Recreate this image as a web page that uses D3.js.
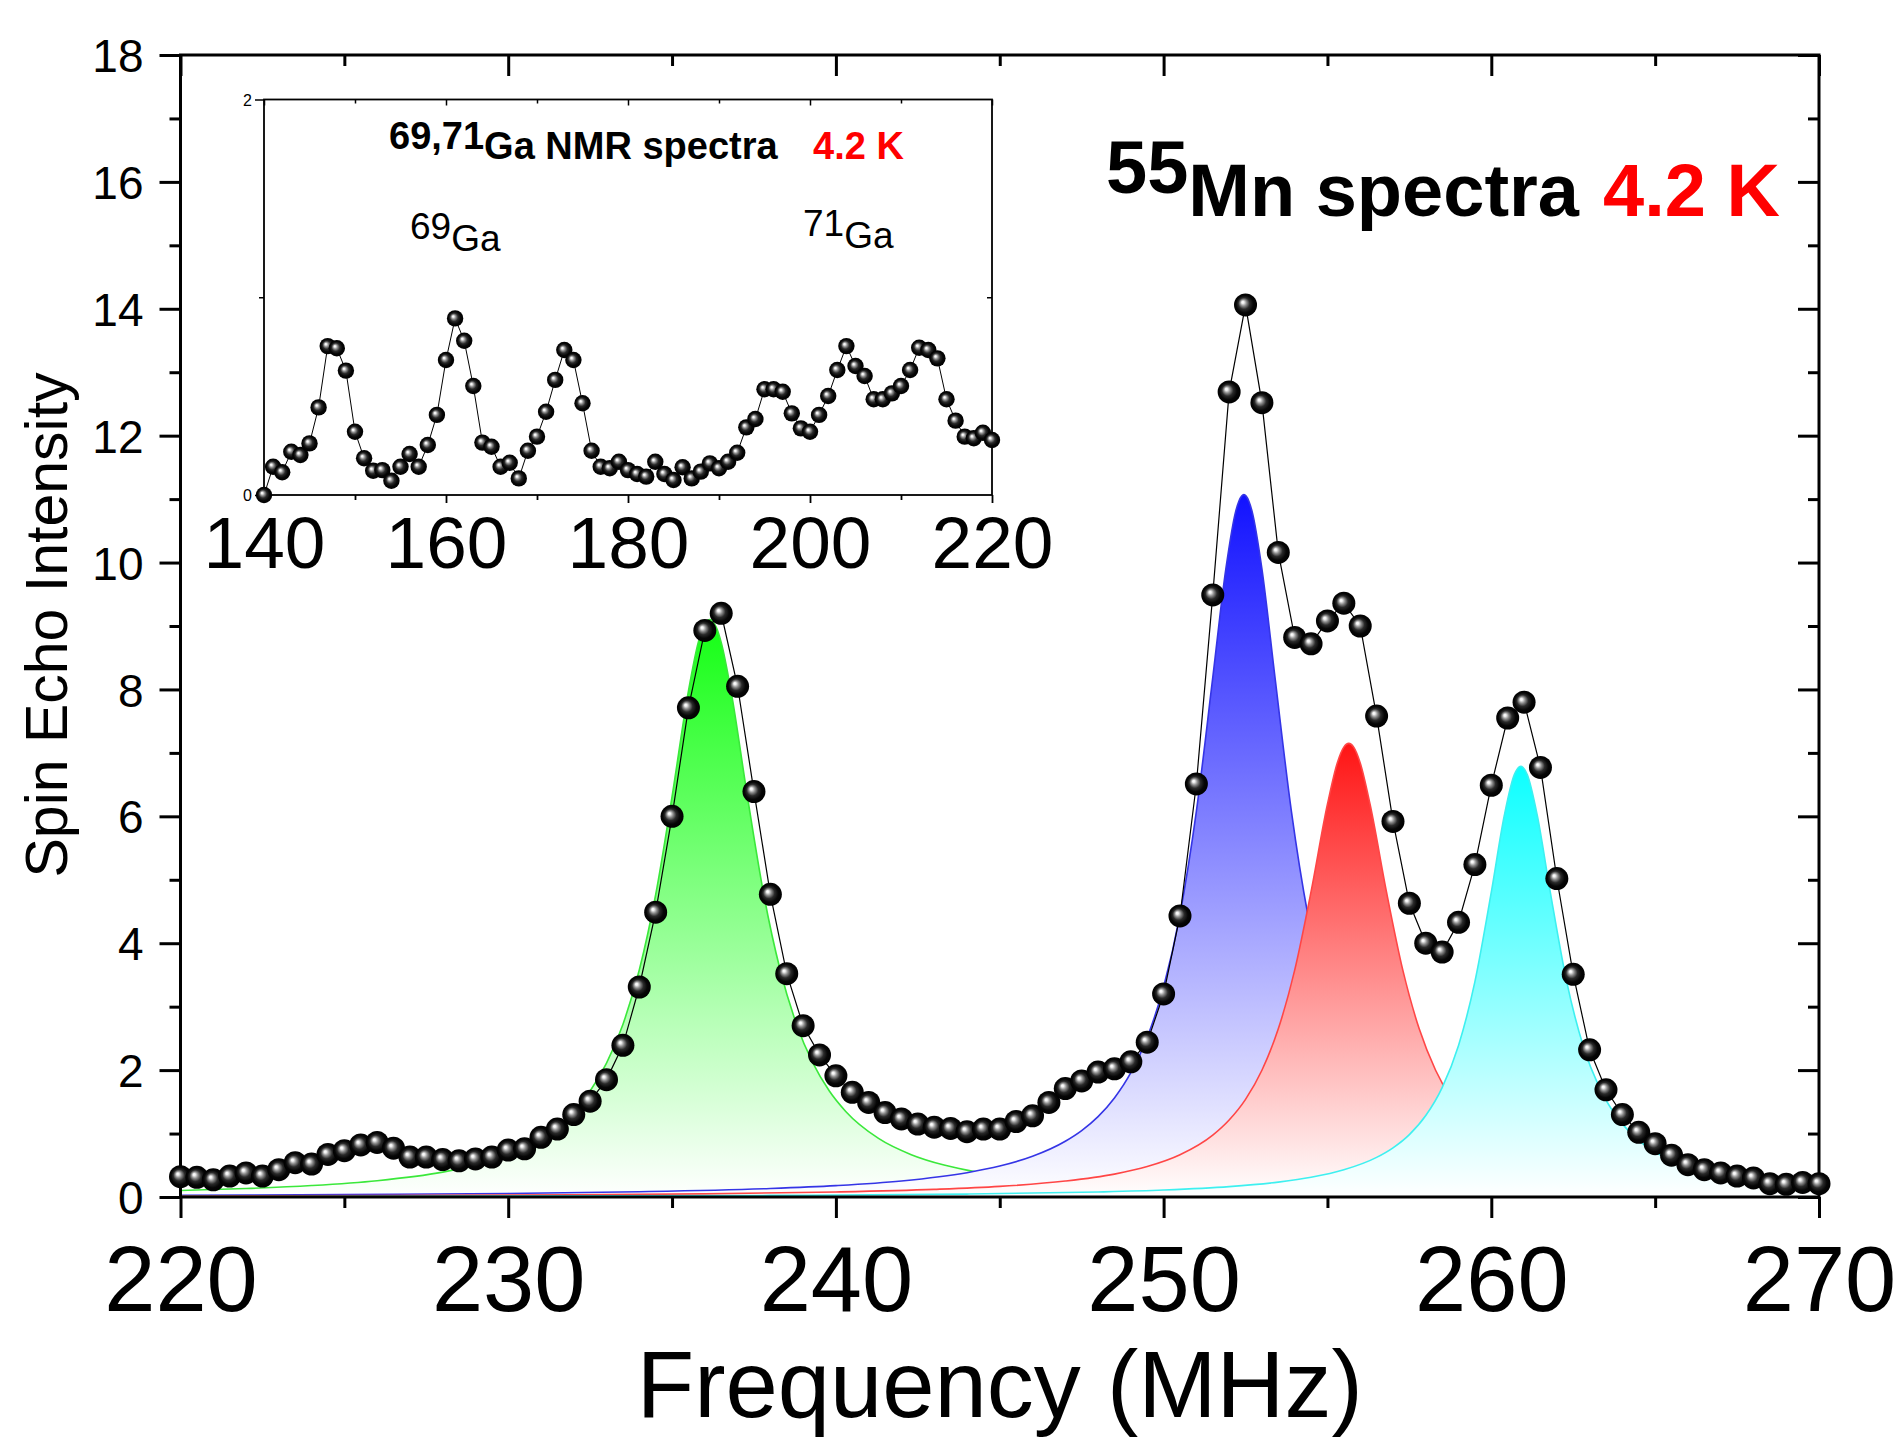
<!DOCTYPE html>
<html>
<head>
<meta charset="utf-8">
<script src="https://cdn.jsdelivr.net/npm/d3@7"></script>
<style>
html,body{margin:0;padding:0;background:#fff;}
svg{display:block;}
</style>
</head>
<body>
<div id="chart"></div>
<script>
// ---------------- DATA ----------------
// 55Mn spin-echo spectrum (main plot)
const mnFreq = [220,220.5,221,221.5,222,222.5,223,223.5,224,224.5,225,225.5,226,226.5,227,227.5,228,228.5,229,229.5,
  230,230.5,231,231.5,232,232.5,233,233.5,234,234.5,235,235.5,236,236.5,237,237.5,238,238.5,239,239.5,
  240,240.5,241,241.5,242,242.5,243,243.5,244,244.5,245,245.5,246,246.5,247,247.5,248,248.5,249,249.5,
  250,250.5,251,251.5,252,252.5,253,253.5,254,254.5,255,255.5,256,256.5,257,257.5,258,258.5,259,259.5,
  260,260.5,261,261.5,262,262.5,263,263.5,264,264.5,265,265.5,266,266.5,267,267.5,268,268.5,269,269.5,270];
const mnEcho = [0.32,0.31,0.27,0.33,0.38,0.33,0.43,0.54,0.52,0.67,0.73,0.82,0.86,0.77,0.63,0.63,0.59,0.57,0.60,0.63,
  0.74,0.76,0.94,1.07,1.30,1.51,1.85,2.39,3.31,4.49,6.00,7.71,8.93,9.20,8.05,6.39,4.77,3.52,2.70,2.24,
  1.91,1.65,1.49,1.33,1.23,1.15,1.10,1.08,1.03,1.07,1.07,1.19,1.28,1.49,1.71,1.83,1.97,2.02,2.13,2.44,
  3.20,4.43,6.51,9.49,12.69,14.06,12.52,10.16,8.82,8.72,9.08,9.36,9.00,7.58,5.92,4.63,4.00,3.86,4.33,5.24,
  6.49,7.55,7.80,6.77,5.02,3.51,2.32,1.69,1.30,1.02,0.84,0.66,0.51,0.43,0.38,0.33,0.30,0.21,0.20,0.23,0.21];

// fitted component curves as [frequency, intensity]
const greenFit = [[220,0.103],[222,0.134],[224,0.181],[226,0.257],[228,0.392],[229,0.503],[230,0.667],[231,0.923],
  [232,1.348],[232.5,1.670],[233,2.109],[233.5,2.720],[234,3.577],[234.5,4.764],[235,6.311],[235.5,7.975],
  [235.8,8.742],[235.95,8.98],[236.15,9.10],[236.35,8.98],[236.5,8.742],[236.8,7.975],[237.3,6.311],[237.8,4.764],
  [238.3,3.577],[238.8,2.720],[239.3,2.109],[239.8,1.670],[240.3,1.348],[241.3,0.923],[242.3,0.667],[243.3,0.503],
  [244.3,0.392],[246.3,0.257],[248.3,0.181],[250.3,0.134],[252.3,0.103],[256,0.069],[260,0.048],[265,0.033],[270,0.024]];
const blueFit = [[220,0.027],[225,0.038],[230,0.056],[234,0.083],[238,0.134],[240,0.180],[242,0.253],[244,0.383],
  [245,0.488],[246,0.642],[247,0.879],[247.5,1.047],[248,1.267],[248.5,1.561],[249,1.959],[249.5,2.516],[250,3.309],
  [250.5,4.455],[251,6.079],[251.5,8.185],[251.9,9.901],[252.2,10.806],[252.3,10.97],[252.45,11.07],[252.6,10.97],
  [252.7,10.806],[253.0,9.901],[253.4,8.185],[253.9,6.079],[254.4,4.455],[254.9,3.309],[255.4,2.516],[255.9,1.959],
  [256.9,1.267],[257.9,0.879],[258.9,0.642],[260.9,0.383],[262.9,0.253],[265,0.177],[270,0.091]];
const redFit = [[220,0.015],[226,0.022],[232,0.035],[236,0.050],[240,0.079],[243,0.120],[245,0.167],[247,0.251],
  [248.5,0.361],[249.5,0.480],[250.5,0.666],[251.5,0.976],[252,1.214],[252.5,1.539],[253,1.998],[253.5,2.650],
  [254,3.575],[254.5,4.812],[255,6.190],[255.3,6.842],[255.5,7.091],[255.65,7.15],[255.8,7.091],[256.0,6.842],
  [256.3,6.190],[256.8,4.812],[257.3,3.575],[257.8,2.650],[258.3,1.998],[258.8,1.539],[259.3,1.214],[259.8,0.976],
  [260.8,0.666],[261.8,0.480],[263,0.343],[265,0.216],[267,0.148],[270,0.093]];
const cyanFit = [[220,0.008],[230,0.014],[238,0.025],[244,0.046],[248,0.079],[250,0.110],[252,0.164],[253.5,0.235],
  [254.5,0.310],[255.5,0.428],[256.5,0.624],[257,0.775],[257.5,0.984],[258,1.284],[258.5,1.724],[259,2.389],
  [259.5,3.395],[260,4.805],[260.4,6.022],[260.7,6.654],[260.9,6.79],[261.1,6.654],[261.4,6.022],[261.8,4.805],
  [262.3,3.395],[262.8,2.389],[263.3,1.724],[263.8,1.284],[264.3,0.984],[264.8,0.775],[265.3,0.624],[266.3,0.428],
  [267.3,0.310],[268.3,0.235],[270,0.157]];

// 69,71Ga spectrum (inset)
const gaFreq = [140,141,142,143,144,145,146,147,148,149,150,151,152,153,154,155,156,157,158,159,
  160,161,162,163,164,165,166,167,168,169,170,171,172,173,174,175,176,177,178,179,
  180,181,182,183,184,185,186,187,188,189,190,191,192,193,194,195,196,197,198,199,
  200,201,202,203,204,205,206,207,208,209,210,211,212,213,214,215,216,217,218,219,220];
const gaEcho = [0.000,0.143,0.115,0.219,0.202,0.261,0.443,0.753,0.742,0.629,0.320,0.186,0.123,0.126,0.072,0.143,0.207,0.143,0.253,0.405,
  0.683,0.893,0.780,0.551,0.265,0.244,0.143,0.163,0.084,0.224,0.295,0.421,0.582,0.733,0.683,0.464,0.224,0.143,0.135,0.168,
  0.126,0.106,0.093,0.168,0.106,0.076,0.140,0.084,0.118,0.160,0.135,0.168,0.214,0.342,0.384,0.535,0.535,0.522,0.413,0.337,
  0.320,0.405,0.501,0.632,0.753,0.652,0.602,0.484,0.484,0.514,0.551,0.632,0.745,0.733,0.691,0.484,0.376,0.295,0.287,0.315,0.278];

// ticks
const xTicks = [220,230,240,250,260,270];
const xMinorTicks = [225,235,245,255,265];
const yTicks = [0,2,4,6,8,10,12,14,16,18];
const yMinorTicks = [1,3,5,7,9,11,13,15,17];
const insetXTicks = [140,160,180,200,220];
const insetXMinorTicks = [150,170,190,210];
const insetYTicks = [0,2];
const insetYMinorTicks = [1];

// ---------------- STYLE ----------------
const FONT = '"Liberation Sans", Arial, Helvetica, sans-serif';
const fits = [
  {id:"gGreen", data:greenFit, top:"#14ff14", line:"#3be83b"},
  {id:"gBlue",  data:blueFit,  top:"#1212ff", line:"#3535e6"},
  {id:"gRed",   data:redFit,   top:"#ff1414", line:"#ff4646"},
  {id:"gCyan",  data:cyanFit,  top:"#0cffff", line:"#3ef0f0"}
];

const W = 1903, H = 1440;
const svg = d3.select("#chart").append("svg").attr("width", W).attr("height", H);
const defs = svg.append("defs");

// sphere marker gradient
const ball = defs.append("radialGradient").attr("id","ball")
  .attr("cx","50%").attr("cy","50%").attr("r","50%").attr("fx","37%").attr("fy","37%");
[[0,"#ffffff"],[0.1,"#f2f2f2"],[0.28,"#8e8e8e"],[0.5,"#2a2a2a"],[0.75,"#060606"],[1,"#000000"]]
  .forEach(s => ball.append("stop").attr("offset", s[0]).attr("stop-color", s[1]));

fits.forEach(f => {
  const g = defs.append("linearGradient").attr("id", f.id).attr("x1",0).attr("y1",0).attr("x2",0).attr("y2",1);
  g.append("stop").attr("offset",0).attr("stop-color", f.top);
  g.append("stop").attr("offset",1).attr("stop-color", "#ffffff");
});

// ---------------- MAIN PLOT ----------------
const x = d3.scaleLinear().domain([220,270]).range([180.5,1819]);
const y = d3.scaleLinear().domain([0,18]).range([1197,55]);

function cleanAxis(g, w){
  g.select(".domain").remove();
  g.selectAll(".tick line").attr("stroke","#000").attr("stroke-width", w);
  g.attr("font-family", FONT);
}

// fits
const area = d3.area().x(d => x(d[0])).y0(y(0)).y1(d => y(d[1])).curve(d3.curveMonotoneX);
const fline = d3.line().x(d => x(d[0])).y(d => y(d[1])).curve(d3.curveMonotoneX);
fits.forEach(f => {
  svg.append("path").datum(f.data).attr("d", area).attr("fill", `url(#${f.id})`);
  svg.append("path").datum(f.data).attr("d", fline).attr("fill","none").attr("stroke", f.line).attr("stroke-width",1.6);
});

// axes: bottom
svg.append("g").attr("transform",`translate(0,${y(0)})`)
  .call(d3.axisBottom(x).tickValues(xMinorTicks).tickSize(11).tickFormat(""))
  .call(g => cleanAxis(g,3));
svg.append("g").attr("transform",`translate(0,${y(0)})`)
  .call(d3.axisBottom(x).tickValues(xTicks).tickSize(21).tickFormat(d3.format("d")))
  .call(g => cleanAxis(g,3))
  .call(g => g.selectAll("text").attr("y",114).attr("dy",null).attr("font-size",92).attr("fill","#000"));
// top (inward)
svg.append("g").attr("transform",`translate(0,${y(18)})`)
  .call(d3.axisTop(x).tickValues(xMinorTicks).tickSize(-11).tickFormat(""))
  .call(g => cleanAxis(g,3));
svg.append("g").attr("transform",`translate(0,${y(18)})`)
  .call(d3.axisTop(x).tickValues(xTicks).tickSize(-21).tickFormat(""))
  .call(g => cleanAxis(g,3));
// left
svg.append("g").attr("transform",`translate(${x(220)},0)`)
  .call(d3.axisLeft(y).tickValues(yMinorTicks).tickSize(11).tickFormat(""))
  .call(g => cleanAxis(g,3));
svg.append("g").attr("transform",`translate(${x(220)},0)`)
  .call(d3.axisLeft(y).tickValues(yTicks).tickSize(21).tickFormat(d3.format("d")))
  .call(g => cleanAxis(g,3))
  .call(g => g.selectAll("text").attr("x",-37).attr("dy","0.36em").attr("font-size",46).attr("fill","#000"));
// right (inward)
svg.append("g").attr("transform",`translate(${x(270)},0)`)
  .call(d3.axisRight(y).tickValues(yMinorTicks).tickSize(-11).tickFormat(""))
  .call(g => cleanAxis(g,3));
svg.append("g").attr("transform",`translate(${x(270)},0)`)
  .call(d3.axisRight(y).tickValues(yTicks).tickSize(-21).tickFormat(""))
  .call(g => cleanAxis(g,3));

// frame
svg.append("rect").attr("x", x(220)).attr("y", y(18)).attr("width", x(270)-x(220)).attr("height", y(0)-y(18))
  .attr("fill","none").attr("stroke","#000").attr("stroke-width",3);

// axis titles
svg.append("text").attr("x",(x(220)+x(270))/2).attr("y",1417).attr("text-anchor","middle")
  .attr("font-family",FONT).attr("font-size",94).attr("fill","#000").text("Frequency (MHz)");
svg.append("text").attr("transform","translate(67,625) rotate(-90)").attr("text-anchor","middle")
  .attr("font-family",FONT).attr("font-size",59).attr("fill","#000").text("Spin Echo Intensity");

// main title
const title = svg.append("text").attr("x",1106).attr("y",216).attr("font-family",FONT)
  .attr("font-weight","bold").attr("font-size",74).attr("fill","#000");
title.append("tspan").attr("dy",-23).text("55");
title.append("tspan").attr("dy",23).text("Mn spectra");
title.append("tspan").attr("x",1603).attr("fill","#ff0000").text("4.2 K");

// data line + spheres
const mnPts = mnFreq.map((f,i) => [f, mnEcho[i]]);
svg.append("path").datum(mnPts).attr("d", d3.line().x(d => x(d[0])).y(d => y(d[1])))
  .attr("fill","none").attr("stroke","#000").attr("stroke-width",1.2);
svg.append("g").selectAll("circle").data(mnPts).join("circle")
  .attr("cx", d => x(d[0])).attr("cy", d => y(d[1])).attr("r",11.5).attr("fill","url(#ball)");

// ---------------- INSET ----------------
const ix = d3.scaleLinear().domain([140,220]).range([264,992]);
const iy = d3.scaleLinear().domain([0,2]).range([495,99.5]);

svg.append("g").attr("transform",`translate(0,${iy(0)})`)
  .call(d3.axisBottom(ix).tickValues(insetXMinorTicks).tickSize(5).tickFormat(""))
  .call(g => cleanAxis(g,1.8));
svg.append("g").attr("transform",`translate(0,${iy(0)})`)
  .call(d3.axisBottom(ix).tickValues(insetXTicks).tickSize(8).tickFormat(d3.format("d")))
  .call(g => cleanAxis(g,1.8))
  .call(g => g.selectAll("text").attr("y",73).attr("dy",null).attr("font-size",73).attr("fill","#000"));
svg.append("g").attr("transform",`translate(0,${iy(2)})`)
  .call(d3.axisTop(ix).tickValues(insetXMinorTicks).tickSize(-4).tickFormat(""))
  .call(g => cleanAxis(g,1.5));
svg.append("g").attr("transform",`translate(0,${iy(2)})`)
  .call(d3.axisTop(ix).tickValues(insetXTicks).tickSize(-6).tickFormat(""))
  .call(g => cleanAxis(g,1.5));
svg.append("g").attr("transform",`translate(${ix(140)},0)`)
  .call(d3.axisLeft(iy).tickValues(insetYMinorTicks).tickSize(5).tickFormat(""))
  .call(g => cleanAxis(g,1.5));
svg.append("g").attr("transform",`translate(${ix(140)},0)`)
  .call(d3.axisLeft(iy).tickValues(insetYTicks).tickSize(9).tickFormat(d3.format("d")))
  .call(g => cleanAxis(g,1.5))
  .call(g => g.selectAll("text").attr("x",-12).attr("dy","0.36em").attr("font-size",16).attr("fill","#000"));
svg.append("g").attr("transform",`translate(${ix(220)},0)`)
  .call(d3.axisRight(iy).tickValues(insetYMinorTicks).tickSize(-5).tickFormat(""))
  .call(g => cleanAxis(g,1.5));
svg.append("rect").attr("x", ix(140)).attr("y", iy(2)).attr("width", ix(220)-ix(140)).attr("height", iy(0)-iy(2))
  .attr("fill","none").attr("stroke","#000").attr("stroke-width",1.8);

// inset texts
const it = svg.append("text").attr("x",389).attr("y",159).attr("font-family",FONT)
  .attr("font-weight","bold").attr("font-size",38).attr("fill","#000");
it.append("tspan").attr("dy",-10).text("69,71");
it.append("tspan").attr("dy",10).text("Ga NMR spectra");
svg.append("text").attr("x",813).attr("y",159).attr("font-family",FONT).attr("font-weight","bold")
  .attr("font-size",38).attr("fill","#ff0000").text("4.2 K");
const l69 = svg.append("text").attr("x",410).attr("y",250.5).attr("font-family",FONT).attr("font-size",37).attr("fill","#000");
l69.append("tspan").attr("dy",-11.5).text("69");
l69.append("tspan").attr("dy",11.5).text("Ga");
const l71 = svg.append("text").attr("x",803).attr("y",247.5).attr("font-family",FONT).attr("font-size",37).attr("fill","#000");
l71.append("tspan").attr("dy",-11.5).text("71");
l71.append("tspan").attr("dy",11.5).text("Ga");

// inset data
const gaPts = gaFreq.map((f,i) => [f, gaEcho[i]]);
svg.append("path").datum(gaPts).attr("d", d3.line().x(d => ix(d[0])).y(d => iy(d[1])))
  .attr("fill","none").attr("stroke","#000").attr("stroke-width",1);
svg.append("g").selectAll("circle").data(gaPts).join("circle")
  .attr("cx", d => ix(d[0])).attr("cy", d => iy(d[1])).attr("r",8.2).attr("fill","url(#ball)");
</script>
</body>
</html>
